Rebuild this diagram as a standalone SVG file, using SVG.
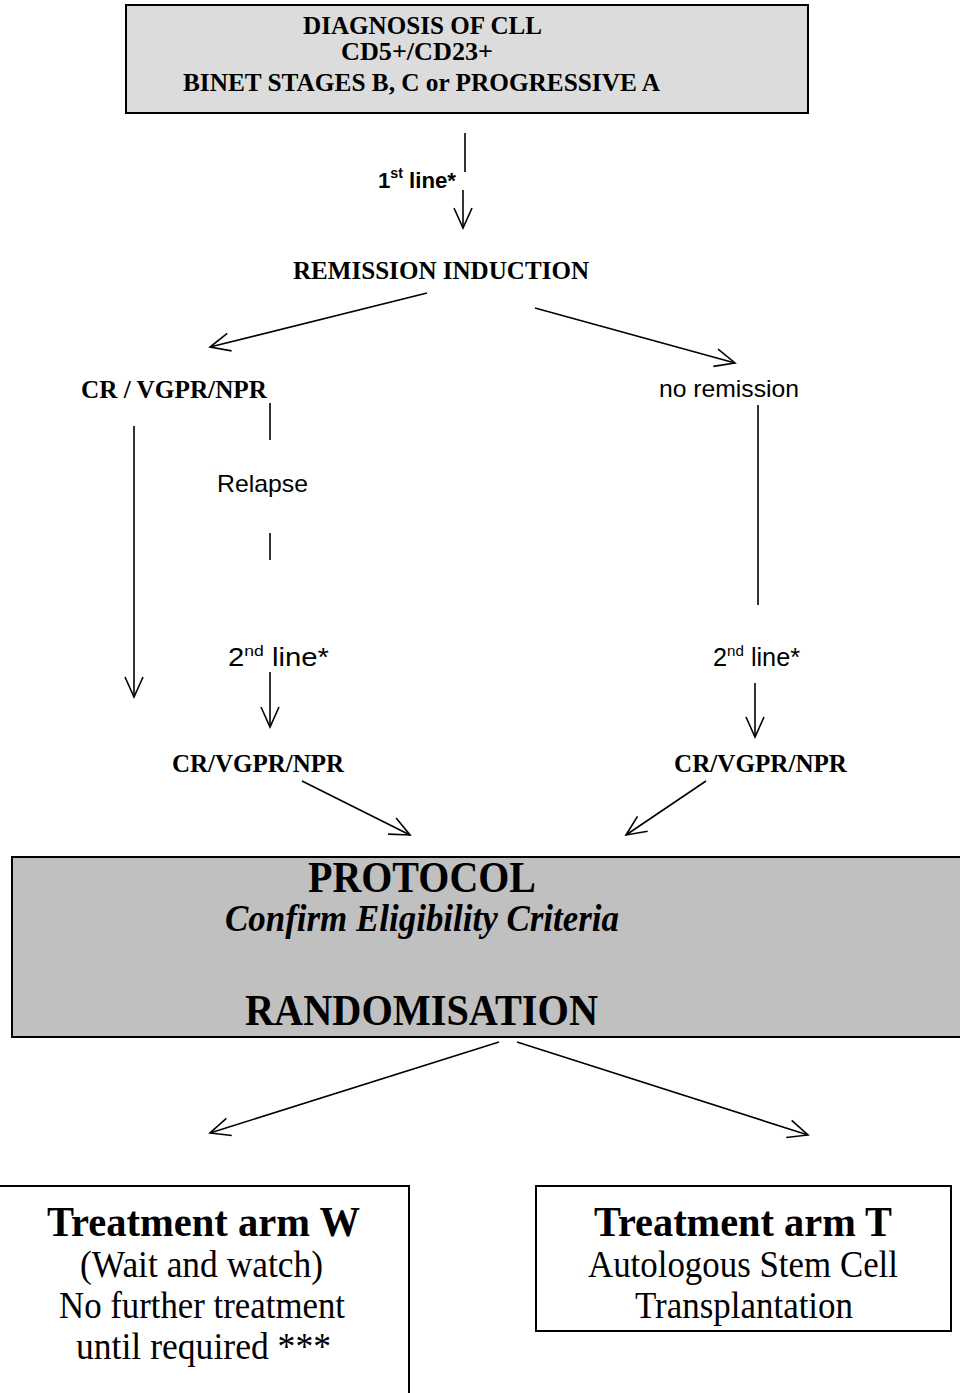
<svg xmlns="http://www.w3.org/2000/svg" width="960" height="1393" viewBox="0 0 960 1393">
<style>
.serif{font-family:"Liberation Serif","Times New Roman",serif;fill:#000}
.sans{font-family:"Liberation Sans",Arial,sans-serif;fill:#000}
.b{font-weight:bold}
.box{stroke:#000;stroke-width:2}
.conn line{stroke:#000;stroke-width:1.6;fill:none}
</style>
<defs>
<marker id="ah" markerUnits="userSpaceOnUse" markerWidth="30" markerHeight="30" refX="0" refY="0" viewBox="-25 -15 30 30" orient="auto" overflow="visible">
<path d="M-20,-9 L0,0 L-20,9" fill="none" stroke="#000" stroke-width="1.6"/>
</marker>
</defs>
<rect width="960" height="1393" fill="#fff"/>

<g id="diagnosis">
<rect class="box" x="126" y="5" width="682" height="108" fill="#dcdcdc"/>
<text class="serif b" font-size="25" x="303" y="34" textLength="239" lengthAdjust="spacingAndGlyphs">DIAGNOSIS OF CLL</text>
<text class="serif b" font-size="25" x="341" y="60" textLength="152" lengthAdjust="spacingAndGlyphs">CD5+/CD23+</text>
<text class="serif b" font-size="25" x="183" y="91" textLength="477" lengthAdjust="spacingAndGlyphs">BINET STAGES B, C or PROGRESSIVE A</text>
</g>

<g id="first-line-label">
<text class="sans b" font-size="22" x="378" y="188" textLength="78" lengthAdjust="spacingAndGlyphs">1<tspan font-size="14" dy="-10">st</tspan><tspan dy="10"> line*</tspan></text>
</g>

<g id="remission-induction">
<text class="serif b" font-size="26" x="293" y="279" textLength="296" lengthAdjust="spacingAndGlyphs">REMISSION INDUCTION</text>
</g>

<g id="cr-vgpr-npr-1">
<text class="serif b" font-size="26" x="81" y="398" textLength="186" lengthAdjust="spacingAndGlyphs">CR / VGPR/NPR</text>
</g>

<g id="no-remission">
<text class="sans" font-size="24" x="659" y="397" textLength="140" lengthAdjust="spacingAndGlyphs">no remission</text>
</g>

<g id="relapse">
<text class="sans" font-size="24" x="217" y="492" textLength="91" lengthAdjust="spacingAndGlyphs">Relapse</text>
</g>

<g id="second-line-left">
<text class="sans" font-size="25" x="228" y="666" textLength="101" lengthAdjust="spacingAndGlyphs">2<tspan font-size="15" dy="-10">nd</tspan><tspan dy="10"> line*</tspan></text>
</g>

<g id="second-line-right">
<text class="sans" font-size="25" x="713" y="666" textLength="87" lengthAdjust="spacingAndGlyphs">2<tspan font-size="15" dy="-10">nd</tspan><tspan dy="10"> line*</tspan></text>
</g>

<g id="cr-vgpr-npr-2">
<text class="serif b" font-size="26" x="172" y="772" textLength="172" lengthAdjust="spacingAndGlyphs">CR/VGPR/NPR</text>
</g>

<g id="cr-vgpr-npr-3">
<text class="serif b" font-size="26" x="674" y="772" textLength="173" lengthAdjust="spacingAndGlyphs">CR/VGPR/NPR</text>
</g>

<g id="protocol">
<rect class="box" x="12" y="857" width="952" height="180" fill="#c0c0c0"/>
<text class="serif b" font-size="45" x="308" y="892" textLength="228" lengthAdjust="spacingAndGlyphs">PROTOCOL</text>
<text class="serif b" font-style="italic" font-size="37" x="225" y="931" textLength="394" lengthAdjust="spacingAndGlyphs">Confirm Eligibility Criteria</text>
<text class="serif b" font-size="45" x="245" y="1025" textLength="353" lengthAdjust="spacingAndGlyphs">RANDOMISATION</text>
</g>

<g id="arm-w">
<rect class="box" x="-2" y="1186" width="411" height="230" fill="#fff"/>
<text class="serif b" font-size="43" x="47" y="1236" textLength="313" lengthAdjust="spacingAndGlyphs">Treatment arm W</text>
<text class="serif" font-size="37" x="80" y="1277" textLength="243" lengthAdjust="spacingAndGlyphs">(Wait and watch)</text>
<text class="serif" font-size="37" x="59" y="1318" textLength="286" lengthAdjust="spacingAndGlyphs">No further treatment</text>
<text class="serif" font-size="37" x="76" y="1359" textLength="255" lengthAdjust="spacingAndGlyphs">until required ***</text>
</g>

<g id="arm-t">
<rect class="box" x="536" y="1186" width="415" height="145" fill="#fff"/>
<text class="serif b" font-size="43" x="594" y="1236" textLength="298" lengthAdjust="spacingAndGlyphs">Treatment arm T</text>
<text class="serif" font-size="37" x="588" y="1277" textLength="310" lengthAdjust="spacingAndGlyphs">Autologous Stem Cell</text>
<text class="serif" font-size="37" x="635" y="1318" textLength="218" lengthAdjust="spacingAndGlyphs">Transplantation</text>
</g>

<g id="connectors" class="conn">
<line x1="465" y1="133" x2="465" y2="172"/>
<line x1="463" y1="190" x2="463" y2="228" marker-end="url(#ah)"/>
<line x1="427" y1="293" x2="210" y2="347" marker-end="url(#ah)"/>
<line x1="535" y1="308" x2="735" y2="363" marker-end="url(#ah)"/>
<line x1="134" y1="426" x2="134" y2="697" marker-end="url(#ah)"/>
<line x1="270" y1="403" x2="270" y2="440"/>
<line x1="270" y1="533" x2="270" y2="560"/>
<line x1="270" y1="672" x2="270" y2="727" marker-end="url(#ah)"/>
<line x1="758" y1="405" x2="758" y2="605"/>
<line x1="755" y1="683" x2="755" y2="737" marker-end="url(#ah)"/>
<line x1="302" y1="781" x2="410" y2="835" marker-end="url(#ah)"/>
<line x1="706" y1="781" x2="626" y2="835" marker-end="url(#ah)"/>
<line x1="499" y1="1042" x2="210" y2="1133" marker-end="url(#ah)"/>
<line x1="517" y1="1042" x2="808" y2="1135" marker-end="url(#ah)"/>
</g>
</svg>
